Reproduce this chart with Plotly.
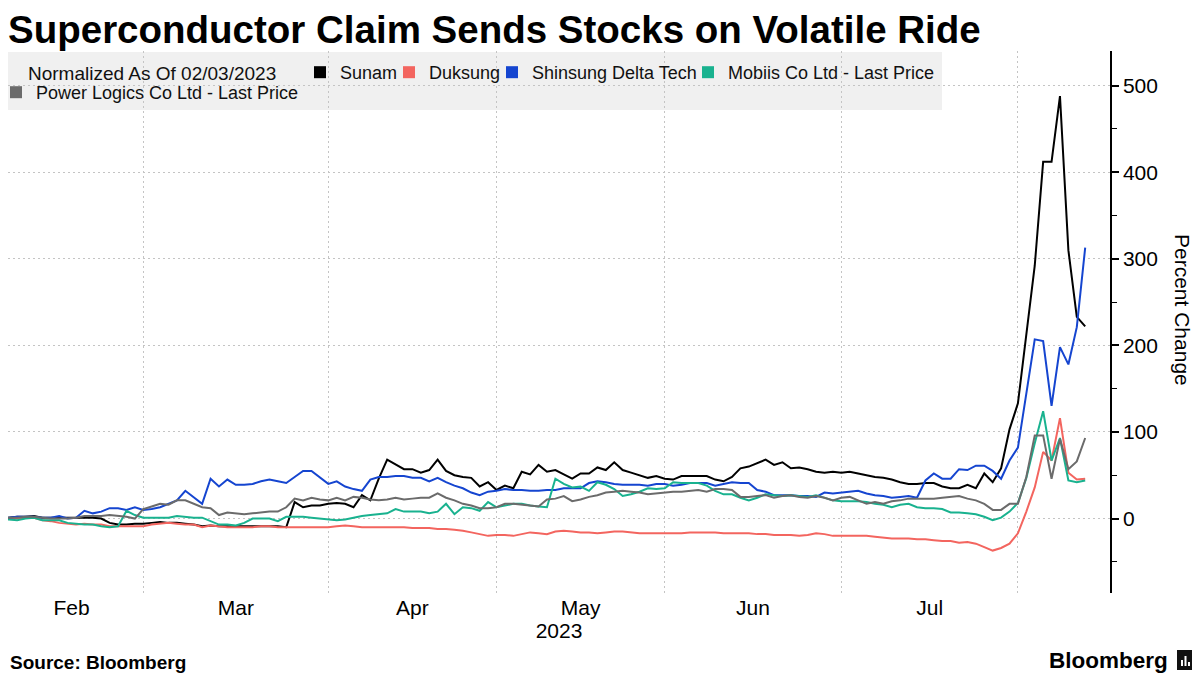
import pandas as pd
import plotly.graph_objects as go

# ---------------- data ----------------
holidays = ["2023-03-01", "2023-05-01", "2023-05-05", "2023-05-29", "2023-06-06"]
dates = [d for d in pd.bdate_range("2023-02-03", "2023-08-11")
         if d.strftime("%Y-%m-%d") not in holidays]

sunam = [0, 0, 1, 2, 2, 3, 1, 1, 1, 1, 1,
         1, 1, 0, -5, -7, -7, -6, -6, -5, -4,
         -5, -5, -6, -7, -9, -8, -9, -9, -9, -9,
         -9, -9, -9, -9, -10, 19, 13, 15, 15, 17,
         18, 17, 13, 27, 21, 46, 68, 62, 57, 57,
         53, 56, 68, 55, 50, 48, 47, 37, 42, 33,
         38, 35, 54, 51, 62, 54, 56, 51, 46, 52,
         52, 59, 56, 65, 56, 53, 50, 47, 49, 46,
         45, 49, 49, 49, 49, 45, 43, 48, 58, 60,
         64, 68, 62, 65, 58, 59, 57, 54, 53, 54,
         53, 54, 52, 50, 48, 47, 45, 42, 40, 40,
         41, 41, 37, 35, 35, 39, 35, 52, 42, 58,
         103, 133, 213, 292, 412, 412, 488, 310, 233, 222]

duksung = [0, 0, 0, 0, 1, 1, -2, -3, -5, -6, -7,
           -6, -7, -7, -9, -9, -9, -9, -9, -7, -6,
           -5, -6, -7, -7, -10, -8, -9, -10, -10, -10,
           -10, -9, -9, -10, -10, -10, -10, -10, -10, -10,
           -9, -8, -9, -10, -10, -10, -10, -10, -10, -11,
           -11, -11, -12, -12, -13, -14, -16, -18, -20, -19,
           -19, -20, -18, -16, -17, -18, -15, -14, -15, -16,
           -16, -17, -16, -15, -15, -16, -17, -17, -17, -17,
           -17, -17, -16, -16, -16, -16, -17, -17, -17, -17,
           -18, -18, -19, -19, -19, -20, -19, -17, -18, -20,
           -20, -20, -20, -20, -21, -22, -23, -23, -23, -24,
           -24, -25, -26, -26, -28, -27, -29, -33, -37, -34,
           -29, -17, 8, 36, 77, 67, 116, 53, 45, 46]

shinsung = [0, 0, 1, 2, 2, 2, 1, 1, 3, 0, 1,
            9, 6, 8, 12, 12, 10, 13, 10, 11, 13,
            17, 21, 32, 24, 17, 46, 37, 45, 39, 39,
            40, 43, 45, 43, 41, 48, 55, 55, 48, 40,
            43, 37, 34, 32, 45, 48, 48, 49, 49, 47,
            47, 43, 47, 42, 38, 35, 30, 27, 31, 32,
            34, 33, 33, 32, 32, 33, 33, 35, 35, 35,
            41, 43, 42, 40, 39, 39, 39, 38, 40, 40,
            38, 39, 41, 41, 41, 38, 40, 42, 41, 41,
            33, 31, 27, 27, 27, 26, 26, 25, 30, 29,
            30, 31, 32, 29, 27, 26, 24, 25, 26, 24,
            44, 52, 46, 46, 57, 56, 61, 61, 55, 46,
            67, 82, 144, 207, 205, 130, 198, 178, 221, 313]

mobiis = [0, -1, -1, -2, 0, 1, -2, -2, -2, -5, -6,
          -7, -7, -9, -10, -9, 9, 4, 1, 1, 1,
          1, 3, 2, 1, 1, -3, -7, -7, -8, -5,
          0, 0, 0, -3, 2, 2, 2, 1, 0, -1,
          -2, -1, 1, 3, 4, 5, 6, 11, 8, 8,
          8, 6, 8, 17, 5, 13, 12, 9, 19, 13,
          15, 17, 17, 15, 14, 13, 46, 40, 36, 37,
          32, 42, 39, 34, 26, 28, 31, 35, 34, 35,
          42, 41, 41, 41, 38, 32, 28, 28, 24, 21,
          24, 28, 27, 26, 27, 26, 25, 27, 24, 21,
          20, 20, 20, 19, 17, 16, 13, 16, 17, 13,
          12, 12, 11, 7, 7, 6, 5, 2, -2, 1,
          8, 18, 47, 87, 124, 67, 93, 44, 42, 44]

power_logics = [0, 0, 1, 1, 2, 2, 1, 0, 0, 0, 1,
                3, 3, 3, 4, 3, 2, 0, 11, 14, 17,
                16, 21, 21, 17, 13, 12, 4, 7, 6, 5,
                6, 7, 8, 8, 13, 23, 21, 24, 22, 21,
                24, 21, 25, 24, 22, 21, 22, 24, 22, 23,
                24, 24, 29, 24, 21, 17, 15, 12, 12, 13,
                17, 17, 16, 15, 14, 22, 23, 26, 20, 22,
                25, 27, 30, 31, 32, 31, 30, 28, 29, 30,
                31, 31, 32, 33, 31, 34, 34, 33, 25, 25,
                26, 27, 24, 26, 27, 25, 24, 26, 24, 21,
                24, 25, 21, 17, 19, 17, 20, 21, 23, 23,
                23, 23, 24, 25, 26, 23, 21, 17, 10, 10,
                17, 17, 48, 96, 96, 46, 92, 57, 66, 93]

series_names = ["Sunam", "Duksung", "Shinsung Delta Tech",
                "Mobiis Co Ltd - Last Price", "Power Logics Co Ltd - Last Price"]
series_values = [sunam, duksung, shinsung, mobiis, power_logics]
series_colors = ["#000000", "#f3655f", "#1545d0", "#19b28f", "#6b6b6b"]

y_ticks = [0, 100, 200, 300, 400, 500]
legend_header = "Normalized As Of 02/03/2023"
FONT = "Liberation Sans"

# ---------------- page geometry ----------------
# the page places the figure 8px from the top-left corner
OFF = 8
FIG_W, FIG_H = 1200 - OFF, 675 - OFF
PLOT_L, PLOT_R, PLOT_T, PLOT_B = 8, 1110, 51, 593    # in page pixels

# legend slots: (legend id, left edge in page px, top in page px)
legend_slots = [("legend", 1, 54), ("legend2", 313, 54), ("legend3", 402, 54),
                ("legend4", 505, 54), ("legend5", 701, 54), ("legend6", 9, 74)]

# ---------------- axis helpers (trading-day positions) ----------------
idx = list(range(len(dates)))
date_txt = [d.strftime("%Y-%m-%d") for d in dates]
PX_PER_DAY, X0_PX = 8.41, -8.1
X_START = (PLOT_L - X0_PX) / PX_PER_DAY
X_END = (PLOT_R - X0_PX) / PX_PER_DAY

first_idx, last_idx, order = {}, {}, []
for i, d in enumerate(dates):
    k = d.strftime("%b")
    if k not in first_idx:
        first_idx[k] = i
        order.append(k)
    last_idx[k] = i

label_months = [m for m in order if last_idx[m] - first_idx[m] > 10]
label_pos = [(max(first_idx[m], 0.96) + last_idx[m]) / 2 + 0.5 for m in label_months]
grid_pos = [first_idx[m] for m in order[1:]]


def px_x(p):
    return (p - PLOT_L) / (PLOT_R - PLOT_L)


def px_y(p):
    return (PLOT_B - p) / (PLOT_B - PLOT_T)


fig = go.Figure()

for name, vals, col in zip(series_names, series_values, series_colors):
    fig.add_trace(go.Scatter(
        x=idx, y=vals, mode="lines", name=name, customdata=date_txt,
        line=dict(color=col, width=2), showlegend=False, legendgroup=name,
        hovertemplate="%{customdata}<br>" + name + ": %{y}%<extra></extra>"))

# legend entries (header first, then one square swatch per series)
fig.add_trace(go.Scatter(x=[None], y=[None], mode="lines", name=legend_header,
                         line=dict(color="rgba(0,0,0,0)", width=0), hoverinfo="skip",
                         legend=legend_slots[0][0]))
for (lg, _, _), name, col in zip(legend_slots[1:], series_names, series_colors):
    fig.add_trace(go.Scatter(x=[None], y=[None], mode="markers", name=name,
                             legendgroup=name, legend=lg,
                             marker=dict(symbol="square", size=12, color=col)))

legend_common = dict(orientation="h", xanchor="left", yanchor="top",
                     bgcolor="rgba(0,0,0,0)",
                     font=dict(family=FONT, size=18, color="#111111"),
                     itemwidth=30, traceorder="normal", tracegroupgap=0,
                     indentation=-13)
legend_layout = {lg: dict(x=px_x(lx), y=px_y(ly), **legend_common)
                 for lg, lx, ly in legend_slots}
legend_layout["legend"]["font"] = dict(family=FONT, size=19, color="#111111")

grid_col = "#c4c4c4"
fig.update_layout(
    width=FIG_W, height=FIG_H,
    margin=dict(l=PLOT_L - OFF, r=FIG_W - (PLOT_R - OFF), t=PLOT_T - OFF,
                b=FIG_H - (PLOT_B - OFF), autoexpand=False),
    paper_bgcolor="white", plot_bgcolor="white",
    font=dict(family=FONT, color="black", size=18),
    title=dict(text="<b>Superconductor Claim Sends Stocks on Volatile Ride</b>",
               x=0, xanchor="left", xref="container",
               y=1 - (29.5 - OFF) / FIG_H, yanchor="middle", yref="container",
               font=dict(family=FONT, size=38.5, color="black")),
    showlegend=True,
    xaxis=dict(range=[X_START, X_END], showgrid=False, zeroline=False, showline=False,
               tickmode="array", tickvals=label_pos, ticktext=label_months,
               ticks="", tickfont=dict(family=FONT, size=21, color="black"),
               title=dict(text="2023", font=dict(family=FONT, size=21, color="black"),
                          standoff=5),
               minor=dict(tickmode="array", tickvals=grid_pos, showgrid=True,
                          gridcolor=grid_col, griddash="2px,3px", gridwidth=1, ticks="")),
    yaxis=dict(range=[-86, 540], side="right", showgrid=True, gridcolor=grid_col,
               griddash="2px,3px", gridwidth=1, zeroline=False,
               showline=True, linecolor="black", linewidth=1.5,
               tickmode="array", tickvals=y_ticks, ticktext=[str(v) for v in y_ticks],
               ticks="outside", ticklen=7, tickwidth=1.5, tickcolor="black",
               tickfont=dict(family=FONT, size=21, color="black"),
               minor=dict(dtick=50, tick0=0, ticks="outside", ticklen=5,
                          tickcolor="black", tickwidth=1.2, showgrid=False)),
    **legend_layout,
)

# legend background panel (below the grid, as in the reference)
fig.add_shape(type="rect", xref="paper", yref="paper", layer="below",
              x0=px_x(0), x1=px_x(942), y0=px_y(110), y1=px_y(52),
              fillcolor="#f0f0f0", line=dict(width=0))

fig.add_annotation(text="Percent Change", x=px_x(1183), y=px_y(310), xref="paper",
                   yref="paper", textangle=90, showarrow=False, xanchor="center",
                   yanchor="middle", font=dict(family=FONT, size=21, color="black"))
fig.add_annotation(text="<b>Source: Bloomberg</b>", x=px_x(8), y=px_y(662),
                   xref="paper", yref="paper", showarrow=False, xanchor="left",
                   yanchor="middle", font=dict(family=FONT, size=19, color="black"))
fig.add_annotation(text="<b>Bloomberg</b>", x=px_x(1170), y=px_y(660),
                   xref="paper", yref="paper", showarrow=False, xanchor="right",
                   yanchor="middle", font=dict(family=FONT, size=22.5, color="black"))
# small logo glyph
fig.add_shape(type="rect", xref="paper", yref="paper",
              x0=px_x(1177), x1=px_x(1194), y0=px_y(670), y1=px_y(650),
              fillcolor="#111111", line=dict(width=0))
for bx, top in [(1182, 660), (1185.5, 656), (1189, 662)]:
    fig.add_shape(type="line", xref="paper", yref="paper",
                  x0=px_x(bx), x1=px_x(bx), y0=px_y(666), y1=px_y(top),
                  line=dict(color="white", width=2))

fig.write_html("out.html")
